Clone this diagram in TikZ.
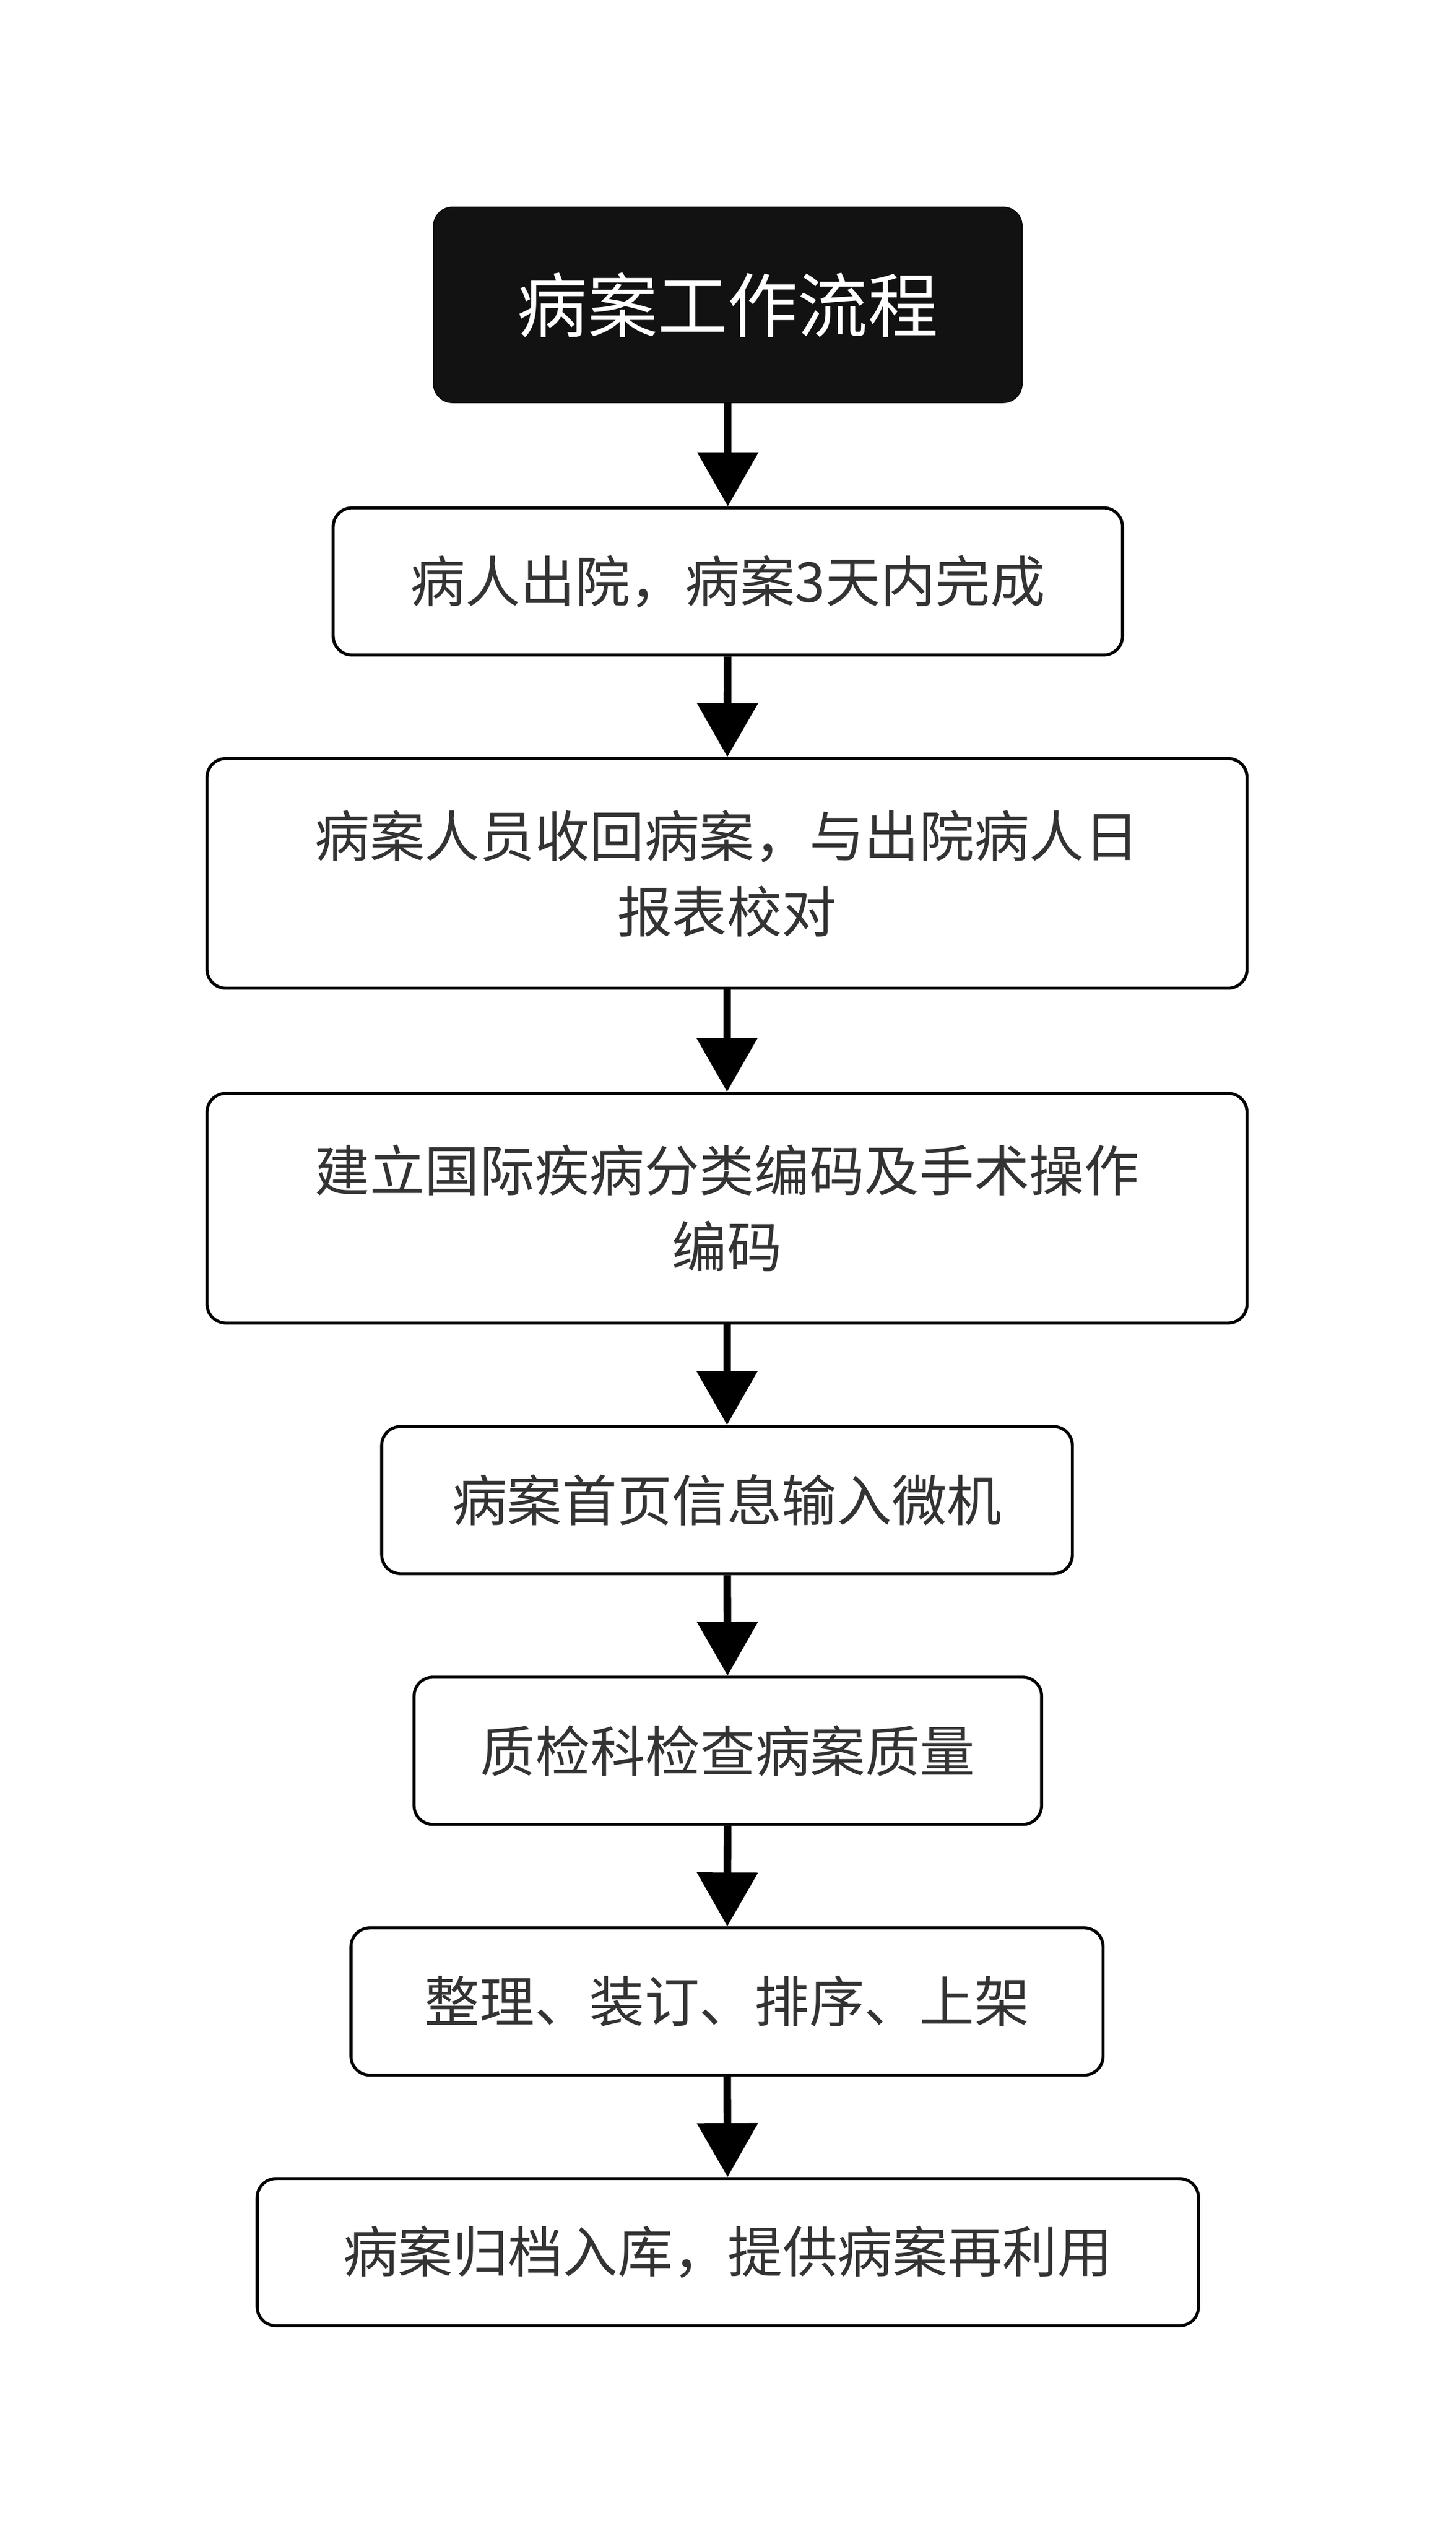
\documentclass[tikz,border=0pt]{standalone}
\usepackage{fontspec}
\setmainfont{Noto Sans CJK SC}
\usetikzlibrary{positioning, arrows.meta}
\definecolor{txtgray}{HTML}{333333}
\tikzset{
  flowbox/.style={draw=black, line width=1.6pt, rounded corners=0.35cm, fill=white,
    text=txtgray, font=\fontsize{29}{40}\selectfont, align=center, inner sep=0pt},
  titlebox/.style={draw=black, fill=black!93, rounded corners=0.35cm, text=white,
    font=\fontsize{37}{44}\selectfont, inner sep=0pt},
  flowarrow/.style={-{Triangle[length=1.0cm, width=1.1cm]}, line width=4pt, black}
}
\begin{document}
\begin{tikzpicture}[x=0.03cm, y=-0.03cm]
  \useasboundingbox (0,0) rectangle (900,1568);

  \node[titlebox, minimum width=364*0.03cm, minimum height=121*0.03cm] (title) at (450,188.5) {病案工作流程};

  \node[flowbox, minimum width=488*0.03cm, minimum height=91*0.03cm] (out) at (450,359.5) {病人出院，病案3天内完成};
  \node[flowbox, minimum width=643*0.03cm, minimum height=142*0.03cm] (collect) at (449.5,540) {病案人员收回病案，与出院病人日\\报表校对};
  \node[flowbox, minimum width=643*0.03cm, minimum height=142*0.03cm] (code) at (449.5,747) {建立国际疾病分类编码及手术操作\\编码};
  \node[flowbox, minimum width=427*0.03cm, minimum height=91*0.03cm] (input) at (449.5,927.5) {病案首页信息输入微机};
  \node[flowbox, minimum width=388*0.03cm, minimum height=91*0.03cm] (check) at (450,1082.5) {质检科检查病案质量};
  \node[flowbox, minimum width=465*0.03cm, minimum height=91*0.03cm] (sort) at (449.5,1237.5) {整理、装订、排序、上架};
  \node[flowbox, minimum width=582*0.03cm, minimum height=91*0.03cm] (archive) at (450,1392.5) {病案归档入库，提供病案再利用};

  \draw[flowarrow] (title) -- (out);
  \draw[flowarrow] (out) -- (collect);
  \draw[flowarrow] (collect) -- (code);
  \draw[flowarrow] (code) -- (input);
  \draw[flowarrow] (input) -- (check);
  \draw[flowarrow] (check) -- (sort);
  \draw[flowarrow] (sort) -- (archive);
\end{tikzpicture}
\end{document}
